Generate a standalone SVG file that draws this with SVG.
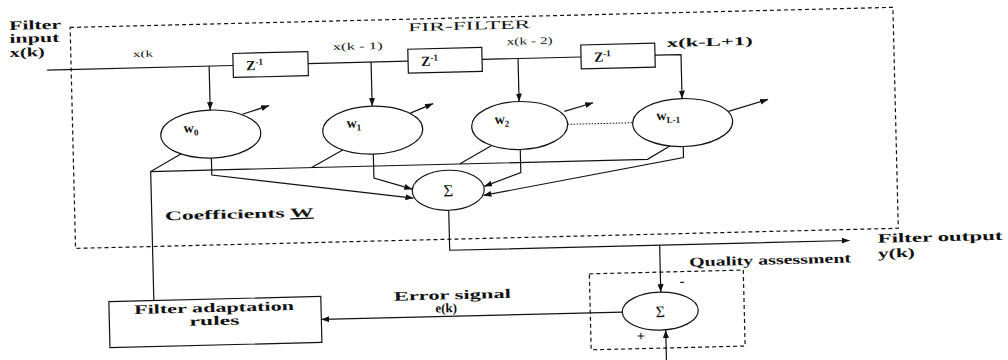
<svg xmlns="http://www.w3.org/2000/svg" width="1008" height="360" viewBox="0 0 1008 360">
<defs>
<marker id="ah" viewBox="0 0 8 6" refX="8" refY="3" markerWidth="8" markerHeight="6" markerUnits="userSpaceOnUse" orient="auto"><path d="M0,0 L8,3 L0,6 z" fill="#111"/></marker>
<style>
.ln{fill:none;stroke:#111;stroke-width:1.2}
.ar{fill:none;stroke:#111;stroke-width:1.2;marker-end:url(#ah)}
.dash{fill:none;stroke:#111;stroke-width:1.2;stroke-dasharray:4 3}
.dot{fill:none;stroke:#111;stroke-width:1;stroke-dasharray:1.5 1.5}
.box{fill:#fff;stroke:#111;stroke-width:1.2}
.t{font-family:"Liberation Serif","DejaVu Serif",serif;fill:#111}
.b{font-weight:bold}
</style>
</defs>
<rect width="1008" height="360" fill="#fff"/>
<g transform="rotate(-1.4 500 180)">
<g id="fir-frame">
<rect class="dash" x="74" y="17" width="823" height="221"/>
<text class="t" x="412" y="29" font-size="12" textLength="122" lengthAdjust="spacingAndGlyphs">FIR-FILTER</text>
</g>
<g id="quality-frame">
<rect class="dash" x="587" y="276" width="154" height="76"/>
<text class="t b" x="687" y="271" font-size="13" textLength="162" lengthAdjust="spacingAndGlyphs">Quality assessment</text>
</g>
<g id="connectors">
<path class="ln" d="M50 59 H236 M311 59 H411 M485 59 H584"/>
<path class="ar" d="M658 59 H684 V103"/>
<path class="ar" d="M212 59 V103"/>
<path class="ar" d="M374 59 V103"/>
<path class="ar" d="M521 59 V102"/>
<path class="ar" d="M244 108 L271 100"/>
<path class="ar" d="M412 111 L435 102"/>
<path class="ar" d="M566 113 L595 105"/>
<path class="ar" d="M730 117 L770 106"/>
<path class="ln" d="M151 292 V163 L182 146 M151 163 H648 L671 150 M312 163 L344 146 M460 163 L493 145"/>
<path class="ar" d="M212 151 V168 L413 196"/>
<path class="ar" d="M374 151 V175 L412 187"/>
<path class="ar" d="M521 150 V173 L484 186"/>
<path class="ar" d="M684 151 V162 L483 195"/>
<path class="dot" d="M569 126 H634"/>
<path class="ar" d="M448 209 V249 H848"/>
<path class="ar" d="M658 249 V296"/>
<path class="ar" d="M662 372 V334"/>
<path class="ar" d="M619 315 H318"/>
</g>
<g id="input-label">
<text class="t b" x="13" y="18" font-size="13" textLength="52" lengthAdjust="spacingAndGlyphs">Filter</text>
<text class="t b" x="13" y="31" font-size="13" textLength="50" lengthAdjust="spacingAndGlyphs">input</text>
<text class="t b" x="13" y="45" font-size="13" textLength="35" lengthAdjust="spacingAndGlyphs">x(k)</text>
</g>
<g id="tap-labels">
<text class="t" x="136" y="48" font-size="9" textLength="20" lengthAdjust="spacingAndGlyphs">x(k</text>
<text class="t" x="336" y="46" font-size="10" textLength="50" lengthAdjust="spacingAndGlyphs">x(k - 1)</text>
<text class="t" x="510" y="45" font-size="10" textLength="46" lengthAdjust="spacingAndGlyphs">x(k - 2)</text>
<text class="t b" x="670" y="51" font-size="12" textLength="86" lengthAdjust="spacingAndGlyphs">x(k-L+1)</text>
</g>
<g id="z1"><rect class="box" x="236" y="47" width="75" height="24"/><text class="t b" x="249" y="64" font-size="14">Z<tspan font-size="9" dy="-5">-1</tspan></text></g>
<g id="z2"><rect class="box" x="411" y="47" width="74" height="24"/><text class="t b" x="424" y="64" font-size="14">Z<tspan font-size="9" dy="-5">-1</tspan></text></g>
<g id="z3"><rect class="box" x="584" y="47" width="74" height="24"/><text class="t b" x="597" y="64" font-size="14">Z<tspan font-size="9" dy="-5">-1</tspan></text></g>
<g id="w0"><ellipse class="box" cx="212" cy="127" rx="50" ry="24"/><text class="t b" x="185" y="125" font-size="14">w<tspan font-size="9" dy="3">0</tspan></text></g>
<g id="w1"><ellipse class="box" cx="374" cy="127" rx="50" ry="24"/><text class="t b" x="348" y="124" font-size="14">w<tspan font-size="9" dy="3">1</tspan></text></g>
<g id="w2"><ellipse class="box" cx="521" cy="126" rx="48" ry="24"/><text class="t b" x="496" y="124" font-size="14">w<tspan font-size="9" dy="3">2</tspan></text></g>
<g id="wL-1"><ellipse class="box" cx="684" cy="127" rx="50" ry="24"/><text class="t b" x="658" y="124" font-size="14">w<tspan font-size="9" dy="3">L-1</tspan></text></g>
<g id="sum"><ellipse class="box" cx="448" cy="189" rx="36" ry="20"/><text class="t" x="448" y="195" font-size="17" text-anchor="middle">Σ</text></g>
<g id="coeff-label"><text class="t b" x="164" y="212" font-size="13" textLength="149" lengthAdjust="spacingAndGlyphs">Coefficients <tspan text-decoration="underline">W</tspan></text></g>
<g id="output-label">
<text class="t b" x="876" y="252" font-size="13" textLength="125" lengthAdjust="spacingAndGlyphs">Filter output</text>
<text class="t b" x="876" y="267" font-size="13" textLength="37" lengthAdjust="spacingAndGlyphs">y(k)</text>
</g>
<g id="error-sum"><ellipse class="box" cx="657" cy="315" rx="38" ry="19"/><text class="t" x="657" y="321" font-size="16" text-anchor="middle">Σ</text>
<text class="t b" x="677" y="290" font-size="14">-</text>
<text class="t b" x="633" y="344" font-size="14">+</text>
</g>
<g id="error-label">
<text class="t b" x="391" y="298" font-size="13" textLength="117" lengthAdjust="spacingAndGlyphs">Error signal</text>
<text class="t b" x="443" y="311" font-size="13" text-anchor="middle">e(k)</text>
</g>
<g id="adaptation"><rect class="box" x="106" y="292" width="212" height="46"/>
<text class="t b" x="131" y="305" font-size="13" textLength="160" lengthAdjust="spacingAndGlyphs">Filter adaptation</text>
<text class="t b" x="186" y="318" font-size="13" textLength="50" lengthAdjust="spacingAndGlyphs">rules</text>
</g>
</g>
</svg>
